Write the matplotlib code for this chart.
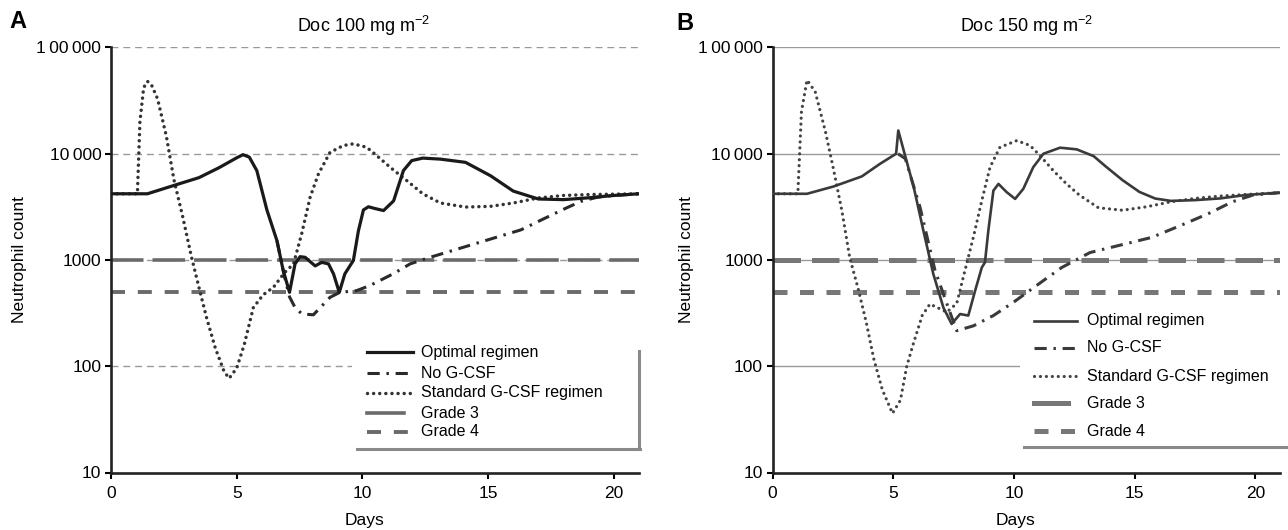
import matplotlib
matplotlib.use("Agg")
import matplotlib.pyplot as plt
from matplotlib.lines import Line2D
from matplotlib.patches import Rectangle
from matplotlib.ticker import NullLocator

plt.rcParams['font.family'] = ['Liberation Sans', 'DejaVu Sans']
plt.rcParams['mathtext.fontset'] = 'custom'
plt.rcParams['mathtext.rm'] = 'Liberation Sans'
plt.rcParams['mathtext.it'] = 'Liberation Sans:italic'

# ---- data ----
x_ticks = [0, 5, 10, 15, 20]
y_ticks = [10, 100, 1000, 10000, 100000]
y_tick_labels = ['10', '100', '1000', '10\u2009000', '1\u200900\u2009000']
legend_labels = ['Optimal regimen', 'No G-CSF', 'Standard G-CSF regimen', 'Grade 3', 'Grade 4']
grade3 = 1000
grade4 = 500

# panel A: Doc 100 mg m-2
days_opt_a = [0, 1.45, 2.5, 3.5, 4.3, 5.0, 5.25, 5.5, 5.8, 6.2, 6.6, 6.85, 7.1, 7.32, 7.52,
              7.72, 8.12, 8.38, 8.65, 8.85, 9.08, 9.3, 9.64, 9.84, 10.04, 10.24, 10.5, 10.84,
              11.24, 11.63, 11.96, 12.4, 13.1, 14.1, 15.1, 16.0, 17.0, 18.0, 19.0, 20.0, 21.0]
opt_a = [4200, 4200, 5030, 5960, 7400, 9160, 9800, 9300, 6940, 2960, 1520, 795, 496, 920, 1075,
         1060, 880, 950, 920, 740, 496, 740, 990, 1880, 2960, 3170, 3050, 2920,
         3600, 6940, 8620, 9100, 8900, 8300, 6200, 4450, 3750, 3700, 3850, 4050, 4200]

days_no_a = [6.6, 6.9, 7.1, 7.32, 7.6, 8.05, 8.71, 9.1, 9.77, 10.3, 11.24, 11.9, 12.75, 14.8,
             16.3, 17.3, 18.1, 18.7, 19.35, 20.0, 21.0]
no_a = [1520, 700, 450, 357, 310, 305, 445, 496, 515, 575, 745, 920, 1070, 1500,
        1920, 2500, 3080, 3570, 3900, 4050, 4200]

days_std_a = [0, 1.05, 1.15, 1.3, 1.45, 1.6, 1.85, 2.2, 2.5, 2.85, 3.2, 3.5, 3.8, 4.15, 4.5,
              4.7, 5.0, 5.3, 5.66, 6.05, 6.46, 6.9, 7.26, 7.59, 7.92, 8.25, 8.71, 9.24, 9.64,
              10.17, 10.57, 11.1, 11.76, 12.4, 13.1, 14.1, 15.1, 16.0, 17.0, 18.0, 19.0, 21.0]
std_a = [4200, 4200, 20000, 42000, 48000, 45000, 33000, 14700, 5740, 2570, 1070, 550, 287,
         148, 89, 77, 96, 160, 356, 470, 553, 760, 920, 1790, 3900, 6460, 10300, 11950,
         12400, 11500, 9600, 7470, 5600, 4200, 3440, 3150, 3200, 3440, 3840, 4050, 4130, 4200]

# panel B: Doc 150 mg m-2
days_opt_b = [0, 1.43, 2.53, 3.7, 4.45, 5.12, 5.21, 5.51, 5.85, 6.25, 6.66, 7.08, 7.42, 7.77,
              8.11, 8.39, 8.67, 8.8, 8.94, 9.15, 9.36, 9.7, 10.05, 10.39, 10.8, 11.22, 11.91,
              12.6, 13.3, 13.8, 14.5, 15.2, 15.85, 16.5, 17.5, 18.55, 19.6, 21.0]
opt_b = [4200, 4200, 4920, 6120, 8030, 10000, 16550, 9280, 4840, 1890, 740, 356, 250, 310,
         300, 512, 850, 950, 1890, 4500, 5200, 4350, 3760, 4680, 7470, 10000, 11400,
         11000, 9500, 7600, 5640, 4370, 3790, 3600, 3660, 3800, 4090, 4300]

days_no_b = [5.2, 5.5, 6.11, 6.73, 7.2, 7.63, 8.32, 9.15, 9.98, 11.22, 11.98, 13.15, 15.7,
             16.9, 18.05, 19.05, 19.9, 21.0]
no_b = [10000, 9000, 3140, 800, 400, 216, 240, 300, 400, 640, 850, 1175, 1630,
        2110, 2730, 3530, 4090, 4300]

days_std_b = [0, 1.05, 1.2, 1.43, 1.77, 2.2, 2.53, 2.87, 3.2, 3.54, 3.88, 4.2, 4.55, 4.97,
              5.3, 5.56, 5.83, 6.2, 6.52, 6.9, 7.22, 7.63, 7.97, 8.32, 8.67, 9.01, 9.42, 10.12,
              10.67, 11.08, 11.63, 12.18, 12.7, 13.5, 14.5, 15.5, 16.5, 17.5, 18.55, 19.9, 21.0]
std_b = [4200, 4200, 25000, 49400, 38300, 15900, 7080, 2940, 1050, 545, 261, 116, 60, 36,
         48, 100, 162, 300, 385, 350, 323, 390, 795, 1640, 3630, 7470, 11500, 13300,
         11950, 9600, 6940, 5200, 4100, 3100, 2940, 3170, 3530, 3800, 4000, 4170, 4300]

# ---- styles ----
styles_a = {
    'opt': dict(color='#1a1a1a', lw=2.3, ls='-'),
    'no': dict(color='#2a2a2a', lw=2.2, dashes=(4, 2.2, 0.8, 2.2)),
    'std': dict(color='#333333', lw=2.5, dashes=(0.01, 1.75), dash_capstyle='round'),
    'g3': dict(color='#6a6a6a', lw=2.6, dashes=(9, 2.5)),
    'g4': dict(color='#6a6a6a', lw=2.8, dashes=(3.6, 3.3)),
}
styles_b = {
    'opt': dict(color='#3a3a3a', lw=1.9, ls='-'),
    'no': dict(color='#3a3a3a', lw=2.2, dashes=(4, 2.2, 0.8, 2.2)),
    'std': dict(color='#444444', lw=2.3, dashes=(0.01, 1.85), dash_capstyle='round'),
    'g3': dict(color='#777777', lw=3.6, dashes=(5.5, 2.2)),
    'g4': dict(color='#777777', lw=3.6, dashes=(2.8, 2.5)),
}

W, H = 1288, 530
fig = plt.figure(figsize=(W / 100, H / 100), dpi=100)


def px(x, y):
    return x / W, 1 - y / H


def setup_axes(ax, grid_dashed):
    ax.set_yscale('log')
    ax.set_ylim(10, 100000)
    ax.set_xlim(0, 21)
    for y in y_ticks[1:]:
        if grid_dashed:
            ax.axhline(y, color='#999999', lw=1.0, dashes=(5, 3.5), zorder=0)
        else:
            ax.axhline(y, color='#9a9a9a', lw=1.0, zorder=0)
    ax.set_yticks(y_ticks)
    ax.set_yticklabels(y_tick_labels)
    ax.yaxis.set_minor_locator(NullLocator())
    ax.set_xticks(x_ticks)
    ax.tick_params(axis='y', length=4, width=1.5, pad=3, labelsize=12.5)
    ax.tick_params(axis='x', length=4, width=1.5, pad=6, labelsize=12.5)
    for s in ['top', 'right']:
        ax.spines[s].set_visible(False)
    for s in ['left', 'bottom']:
        ax.spines[s].set_linewidth(1.9)
        ax.spines[s].set_color('#222222')
    ax.set_ylabel('Neutrophil count', fontsize=12.5)
    ax.set_xlabel('Days', fontsize=12.5)
    ax.xaxis.label.set_va('center')
    ax.yaxis.label.set_va('center')


def draw_panel(ax, st, days_opt, opt, days_no, no, days_std, std):
    ax.axhline(grade3, zorder=2, **st['g3'])
    ax.axhline(grade4, zorder=2, **st['g4'])
    ax.plot(days_std, std, zorder=3, solid_joinstyle='round', **st['std'])
    ax.plot(days_no, no, zorder=3, **st['no'])
    ax.plot(days_opt, opt, zorder=4, solid_joinstyle='round', **st['opt'])


def draw_legend(st, box, x0, x1, xt, rows, fs, shadow):
    bx0, by0, bx1, by1 = box
    fig.add_artist(Rectangle(px(bx0, by1), (bx1 - bx0) / W, (by1 - by0) / H,
                             transform=fig.transFigure, facecolor='white',
                             edgecolor='none', zorder=5))
    for key, y, lab in zip(['opt', 'no', 'std', 'g3', 'g4'], rows, legend_labels):
        kw = dict(st[key])
        end = x1
        if key == 'g3':
            # grade 3 key shows as a single long bar
            kw.pop('dashes')
            end = x0 + 0.8 * (x1 - x0)
        xa, ya = px(x0, y)
        xb, _ = px(end, y)
        fig.add_artist(Line2D([xa, xb], [ya, ya], transform=fig.transFigure, zorder=6, **kw))
        fig.text(*px(xt, y), lab, fontsize=fs, va='center', ha='left', zorder=6)
    for seg in shadow:
        (sx0, sy0), (sx1, sy1) = seg
        a = px(sx0, sy0)
        b = px(sx1, sy1)
        fig.add_artist(Line2D([a[0], b[0]], [a[1], b[1]], transform=fig.transFigure,
                              color='#8a8a8a', lw=2.2, zorder=6))


ax_a = fig.add_axes([111 / W, 1 - 472.5 / H, 528 / W, 425 / H])
setup_axes(ax_a, grid_dashed=True)
draw_panel(ax_a, styles_a, days_opt_a, opt_a, days_no_a, no_a, days_std_a, std_a)
ax_a.yaxis.set_label_coords(-0.174, 0.5)
ax_a.xaxis.set_label_coords(0.481, -0.112)

ax_b = fig.add_axes([772.5 / W, 1 - 472.5 / H, 507 / W, 425 / H])
setup_axes(ax_b, grid_dashed=False)
draw_panel(ax_b, styles_b, days_opt_b, opt_b, days_no_b, no_b, days_std_b, std_b)
ax_b.yaxis.set_label_coords(-0.169, 0.5)
ax_b.xaxis.set_label_coords(0.48, -0.112)

# legends with drop shadow
draw_legend(styles_a, (352, 338, 638, 448), 367, 413, 421,
            [352, 373, 393, 413, 432], 11.5,
            [((639, 351), (639, 449)), ((357, 449), (640, 449))])
draw_legend(styles_b, (1020, 300, 1288, 446), 1034, 1077, 1087,
            [321, 348, 376, 403, 431], 11.5,
            [((1024, 447), (1288, 447))])

# titles and panel letters
fig.text(*px(363, 26), r'Doc 100 mg m$^{-2}$', fontsize=13, ha='center', va='center')
fig.text(*px(1026, 26), r'Doc 150 mg m$^{-2}$', fontsize=13, ha='center', va='center')
fig.text(*px(18, 21), 'A', fontsize=17, fontweight='bold', ha='center', va='center')
fig.text(*px(685, 23), 'B', fontsize=17, fontweight='bold', ha='center', va='center')

fig.savefig('out.png', dpi=100)
